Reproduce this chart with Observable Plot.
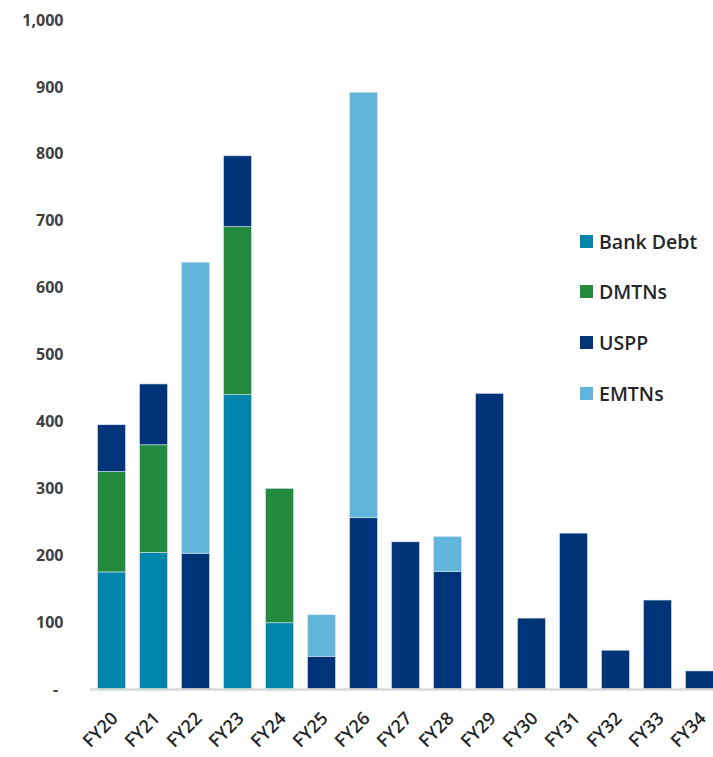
<!DOCTYPE html>
<html>
<head>
<meta charset="utf-8">
<script src="https://cdn.jsdelivr.net/npm/d3@7"></script>
<script src="https://cdn.jsdelivr.net/npm/@observablehq/plot@0.6"></script>
<style>
  html, body { margin: 0; padding: 0; background: #fff; }
  #wrap { position: relative; width: 713px; height: 757px; overflow: hidden; font-family: "Open Sans", sans-serif; }
  #legend { position: absolute; left: 580px; top: 228px; }
  .item { display: flex; align-items: center; height: 26px; margin-bottom: 24.7px; font-size: 19.5px; color: #262626; font-weight: 600; }
  .sw { width: 13px; height: 13px; margin-right: 6px; }
</style>
</head>
<body>
<div id="wrap"><div id="legend"></div></div>
<script>
const categories = ["FY20","FY21","FY22","FY23","FY24","FY25","FY26","FY27","FY28","FY29","FY30","FY31","FY32","FY33","FY34"];
const series = ["Bank Debt","DMTNs","USPP","EMTNs"];
const colors = ["#0086ac","#238a3e","#003478","#61b4da"];
const bankDebt = [175,204,0,440,99,0,0,0,0,0,0,0,0,0,0];
const dmtns    = [150,161,0,251,201,0,0,0,0,0,0,0,0,0,0];
const uspp     = [70,91,203,106,0,49,256,220,176,442,106,233,58,133,27];
const emtns    = [0,0,435,0,0,62,636,0,52,0,0,0,0,0,0];
const yTicks = [0,100,200,300,400,500,600,700,800,900,1000];

const valuesBySeries = [bankDebt, dmtns, uspp, emtns];
const data = [];
series.forEach((s, si) => categories.forEach((c, ci) => {
  data.push({category: c, series: s, value: valuesBySeries[si][ci]});
}));

const chart = Plot.plot({
  width: 713,
  height: 757,
  marginTop: 20,
  marginBottom: 68,
  marginLeft: 90,
  marginRight: 0,
  style: {fontFamily: "Open Sans, sans-serif", fontSize: "16px", fontWeight: 700, color: "#404040", background: "#fff"},
  x: {domain: categories, range: [90.5, 720.5], paddingInner: 0.333, paddingOuter: 0.167, align: 0.5, round: false, label: null},
  y: {domain: [0, 1000], label: null},
  color: {domain: series, range: colors},
  marks: [
    Plot.barY(data, {x: "category", y: "value", fill: "series", order: series, stroke: "#dce8f2", strokeWidth: 0.6}),
    Plot.ruleY([0], {stroke: "#d9d9d9", strokeWidth: 2.5}),
    Plot.axisY({ticks: yTicks, tickSize: 0, tickPadding: 27, tickFormat: d => d === 0 ? "-\u2009\u2009" : d3.format(",")(d), fill: "#404040"}),
    Plot.axisX({tickSize: 0, tickPadding: 26, tickRotate: -45, fill: "#262626", dx: 3, fontSize: 18, fontWeight: 600})
  ]
});
document.getElementById("wrap").prepend(chart);

const legend = document.getElementById("legend");
series.forEach((s, i) => {
  const item = document.createElement("div");
  item.className = "item";
  const sw = document.createElement("div");
  sw.className = "sw";
  sw.style.background = colors[i];
  const t = document.createElement("span");
  t.textContent = s;
  item.appendChild(sw);
  item.appendChild(t);
  legend.appendChild(item);
});
</script>
</body>
</html>
